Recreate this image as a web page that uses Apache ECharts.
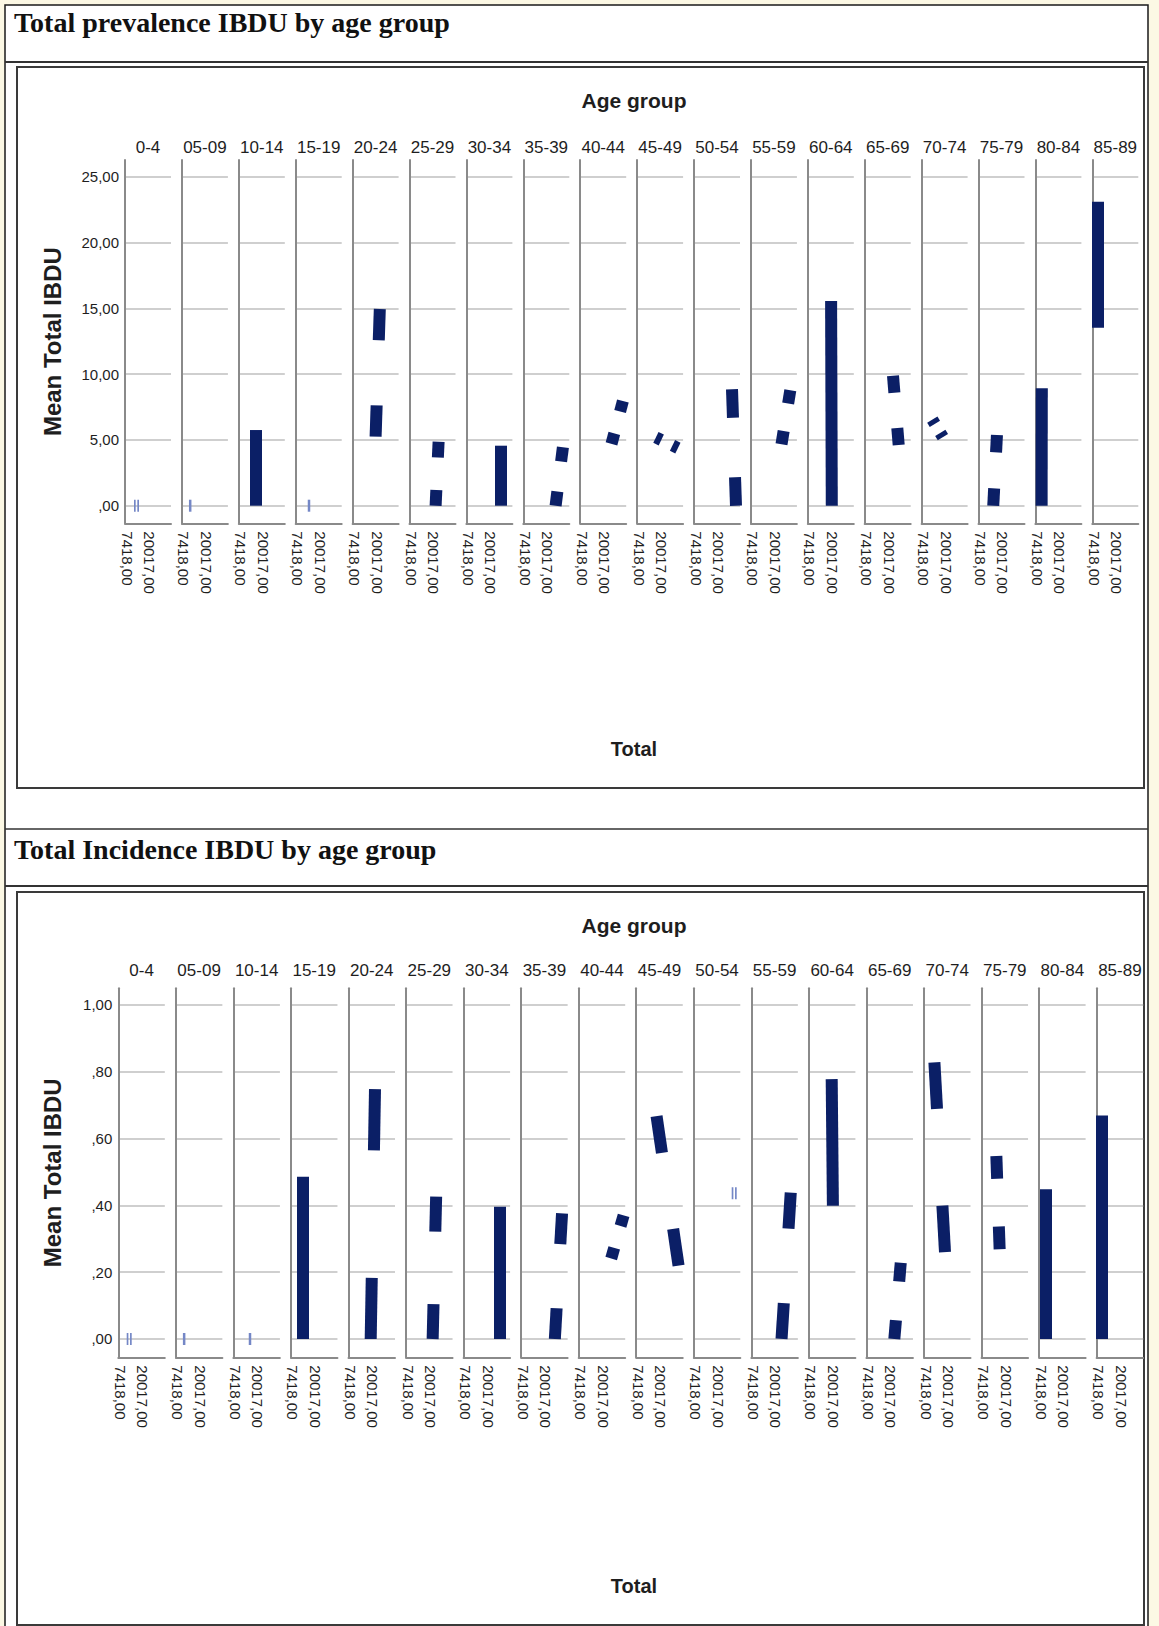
<!DOCTYPE html>
<html><head><meta charset="utf-8">
<script src="https://cdn.jsdelivr.net/npm/echarts@6/dist/echarts.min.js"></script>
<style>html,body{margin:0;padding:0;background:#fcf8e4;}#c{width:1159px;height:1626px;}</style>
</head><body><div id="c"></div>
<script>
// ---------------- DATA ----------------
const ageGroups = ['0-4','05-09','10-14','15-19','20-24','25-29','30-34','35-39','40-44','45-49','50-54','55-59','60-64','65-69','70-74','75-79','80-84','85-89'];
const totalTicks = [7418, 20017];
const prevYTicks = [0, 5, 10, 15, 20, 25];
const incYTicks = [0, 0.2, 0.4, 0.6, 0.8, 1.0];

// Prevalence: each age group's line from (start Total, start mean) to (end Total, end mean)
const prevStartTotal = [12738,10946,15818,13746,19178,20914,25618,24386,23826,16826,29818,23434,19738,25338,12290,14558,9770,9378];
const prevStartMean  = [0,0,0,0,5.25,0,0,0,4.70,5.19,0,4.67,0,4.61,6.54,0,0,13.53];
const prevEndTotal   = [12738,10946,16042,13746,21530,22594,25730,28474,30210,29146,27578,28362,19346,22146,18226,16630,9882,9378];
const prevEndMean    = [0,0,5.75,0,14.95,4.86,4.56,4.44,7.96,4.38,8.85,8.78,15.55,9.88,5.21,5.37,8.92,23.10];
const prevLineType   = ['double','single','solid','single','dashed','dashed','solid','dashed','dashed','dashed','dashed','dashed','solid','dashed','dashed','dashed','solid','solid'];

// Incidence
const incStartTotal = [12402,10946,15594,13074,18730,21194,26682,25170,24498,17666,28922,23210,19738,21922,12122,14586,10050,9266];
const incStartMean  = [0,0,0,0,0,0,0,0,0.241,0.667,0.436,0,0.399,0,0.828,0.548,0,0];
const incEndTotal   = [12402,10946,15594,13074,21138,23154,26682,29202,31442,29986,28922,28362,19066,25506,18058,16434,10050,9266];
const incEndMean    = [0,0,0,0.486,0.748,0.426,0.396,0.376,0.370,0.220,0.436,0.438,0.778,0.2285,0.26,0.2686,0.448,0.669];
const incLineType   = ['double','single','single','solid','dashed','dashed','solid','dashed','dashed','dashed','double','dashed','solid','dashed','dashed','dashed','solid','solid'];

// ---------------- STYLE / LAYOUT ----------------
const FONT = '"Liberation Sans", Arial, sans-serif';
const SERIF = '"Liberation Serif", "Times New Roman", serif';
const NAVY = '#0b1f66';
const LIGHT = '#7487c6';
const TXT = '#1e1e1e';
const AXIS_COL = '#8a8a8a';
const GRID_COL = '#cfcfcf';
const X_MIN = 6298, PX_TOTAL = 560;
const DASH_FRAC = 0.245;

const charts = [
  {top:160, height:363.3, left0:125, step:56.9, width:46, yMin:-1.337, yMax:26.27, yTicks:prevYTicks,
   sT:prevStartTotal, sM:prevStartMean, eT:prevEndTotal, eM:prevEndMean, type:prevLineType,
   frameTop:67, frameBottom:788, ageY:100.5, panelLabelY:147, totalY:748.5},
  {top:988.3, height:369, left0:118.3, step:57.55, width:46.5, yMin:-0.0548, yMax:1.05, yTicks:incYTicks,
   sT:incStartTotal, sM:incStartMean, eT:incEndTotal, eM:incEndMean, type:incLineType,
   frameTop:892, frameBottom:1625, ageY:925, panelLabelY:970, totalY:1586}
];

const yFmt = v => { const s = v.toFixed(2).replace('.', ','); return s.startsWith('0,') ? s.slice(1) : s; };
const xFmt = v => v.toFixed(2).replace('.', ',');

const grid = [], xAxis = [], yAxis = [], series = [], graphic = [];

// table / frames
graphic.push({type:'rect', z:-10, shape:{x:5, y:5, width:1143, height:1625}, style:{fill:'#ffffff', stroke:'#1a1a1a', lineWidth:1.5}});
graphic.push({type:'line', z:-9, shape:{x1:5, y1:62, x2:1148, y2:62}, style:{stroke:'#333', lineWidth:2}});
graphic.push({type:'line', z:-9, shape:{x1:5, y1:829, x2:1148, y2:829}, style:{stroke:'#333', lineWidth:1.5}});
graphic.push({type:'line', z:-9, shape:{x1:5, y1:886, x2:1148, y2:886}, style:{stroke:'#333', lineWidth:2}});
graphic.push({type:'text', x:14, y:22, style:{text:'Total prevalence IBDU by age group', fontFamily:SERIF, fontWeight:'bold', fontSize:28, fill:'#111', textAlign:'left', textVerticalAlign:'middle', align:'left', verticalAlign:'middle'}});
graphic.push({type:'text', x:14, y:849, style:{text:'Total Incidence IBDU by age group', fontFamily:SERIF, fontWeight:'bold', fontSize:28, fill:'#111', textAlign:'left', textVerticalAlign:'middle', align:'left', verticalAlign:'middle'}});

charts.forEach((c, ci) => {
  graphic.push({type:'rect', z:-8, shape:{x:17, y:c.frameTop, width:1127, height:c.frameBottom - c.frameTop}, style:{fill:null, stroke:'#3a3a3a', lineWidth:2}});
  graphic.push({type:'text', x:634, y:c.ageY, style:{text:'Age group', fontFamily:FONT, fontWeight:'bold', fontSize:21, fill:TXT, textAlign:'center', textVerticalAlign:'middle', align:'center', verticalAlign:'middle'}});
  graphic.push({type:'text', x:634, y:c.totalY, style:{text:'Total', fontFamily:FONT, fontWeight:'bold', fontSize:20, fill:TXT, textAlign:'center', textVerticalAlign:'middle', align:'center', verticalAlign:'middle'}});
  graphic.push({type:'text', x:52, y:c.top + c.height / 2, rotation:Math.PI / 2, style:{text:'Mean Total IBDU', fontFamily:FONT, fontWeight:'bold', fontSize:24, fill:TXT, textAlign:'center', textVerticalAlign:'middle', align:'center', verticalAlign:'middle'}});

  ageGroups.forEach((g, i) => {
    const gi = grid.length;
    const left = c.left0 + i * c.step;
    grid.push({left:left, top:c.top, width:c.width, height:c.height, containLabel:false, outerBoundsMode:'none'});
    graphic.push({type:'text', x:left + c.width / 2, y:c.panelLabelY, style:{text:g, fontFamily:FONT, fontSize:17, fill:TXT, textAlign:'center', textVerticalAlign:'middle', align:'center', verticalAlign:'middle'}});
    xAxis.push({gridIndex:gi, type:'value', min:X_MIN, max:X_MIN + c.width * PX_TOTAL,
      axisLine:{show:true, onZero:false, lineStyle:{color:AXIS_COL, width:2}},
      axisTick:{show:false}, splitLine:{show:false},
      axisLabel:{show:true, customValues:totalTicks, formatter:xFmt, rotate:-90, margin:8, fontSize:15, fontFamily:FONT, color:TXT}});
    yAxis.push({gridIndex:gi, type:'value', min:c.yMin, max:c.yMax,
      axisLine:{show:true, onZero:false, lineStyle:{color:AXIS_COL, width:2}},
      axisTick:{show:false, customValues:c.yTicks},
      splitLine:{show:true, lineStyle:{color:GRID_COL, width:2}},
      axisLabel:{show:i === 0, customValues:c.yTicks, formatter:yFmt, margin:6, fontSize:15, fontFamily:FONT, color:TXT}});

    const t = c.type[i];
    const p = f => [c.sT[i] + (c.eT[i] - c.sT[i]) * f, c.sM[i] + (c.eM[i] - c.sM[i]) * f];
    if (t === 'solid' || t === 'dashed') {
      const data = t === 'solid'
        ? [{coords:[p(0), p(1)]}]
        : [{coords:[p(0), p(DASH_FRAC)]}, {coords:[p(1 - DASH_FRAC), p(1)]}];
      series.push({type:'lines', coordinateSystem:'cartesian2d', xAxisIndex:gi, yAxisIndex:gi, silent:true,
        lineStyle:{color:NAVY, width:12, opacity:1, curveness:0, cap:'butt'}, data:data, z:3});
    } else {
      series.push({type:'scatter', xAxisIndex:gi, yAxisIndex:gi, silent:true,
        symbol: t === 'double' ? 'path://M0,0H2V10H0Z M4,0H6V10H4Z' : 'rect',
        symbolSize: t === 'double' ? [5, 12] : [2.5, 12],
        itemStyle:{color:LIGHT, opacity:1}, data:[[c.sT[i], c.sM[i]]], z:3});
    }
  });
});

const chart = echarts.init(document.getElementById('c'), null, {renderer:'svg'});
chart.setOption({animation:false, backgroundColor:'#fcf8e4', tooltip:{show:false}, grid, xAxis, yAxis, series, graphic});
</script></body></html>
